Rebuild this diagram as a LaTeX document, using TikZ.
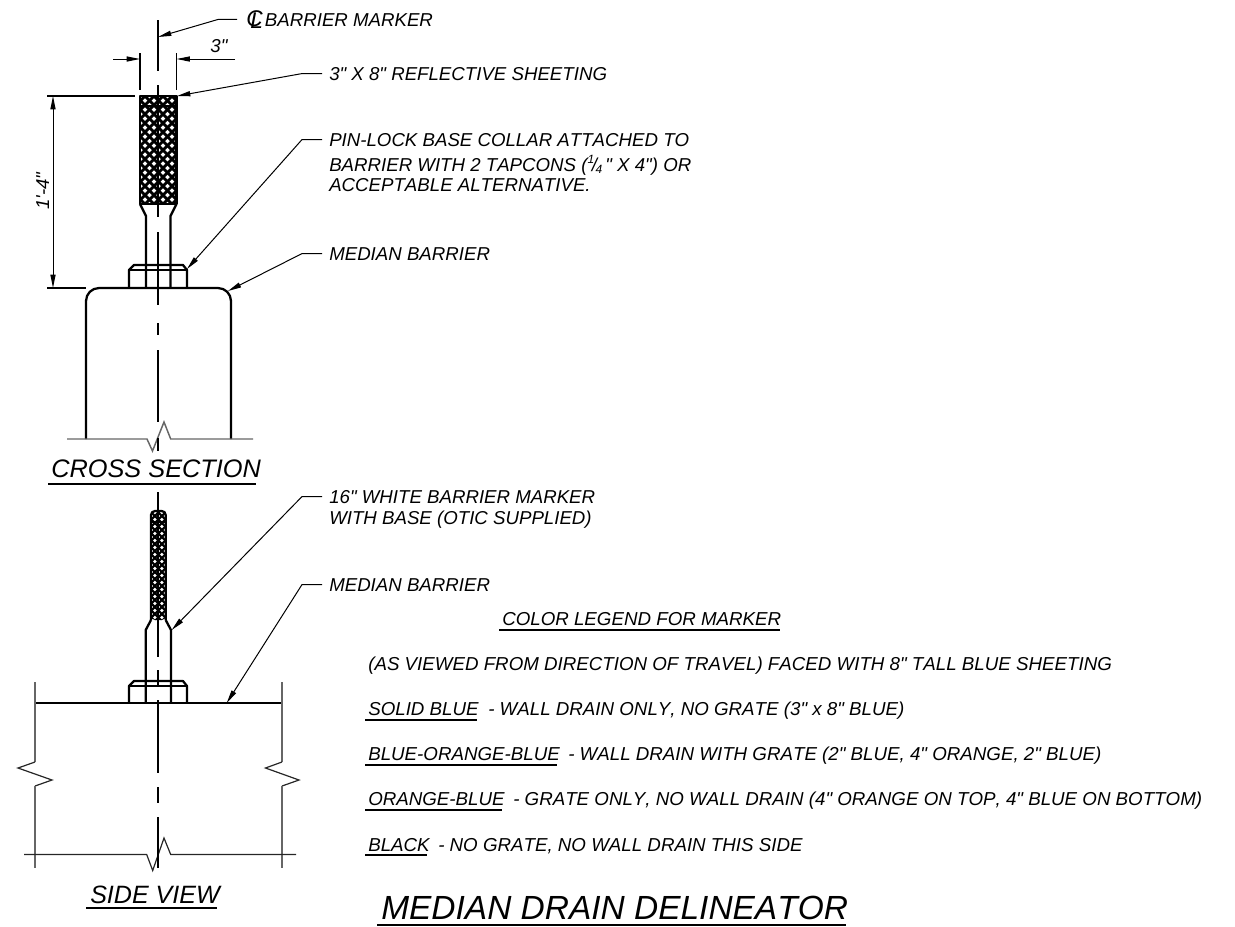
\documentclass[tikz,border=0pt]{standalone}
\usepackage{fontspec}
\setmainfont[Ligatures=TeXOff,Kerning=Off]{Liberation Sans}
\usetikzlibrary{arrows.meta}
\tikzset{
  obj/.style={line width=1.7pt,line join=round},
  thinobj/.style={line width=.9pt},
  sideline/.style={line width=1.1pt,color=black!60},
  center/.style={line width=.9pt},
  leader/.style={line width=.75pt,-{Triangle[length=10pt,width=3.8pt]}},
  dimline/.style={line width=.75pt,-{Triangle[length=10pt,width=3.8pt]}},
  extline/.style={line width=.8pt},
  ulbl/.style={line width=1pt},
  lbl/.style={font=\fontsize{14}{16}\selectfont\itshape,anchor=base west,inner xsep=5.25pt,inner ysep=0pt},
  legend/.style={font=\fontsize{14.05}{16}\selectfont\itshape,anchor=base west,inner sep=0pt},
  viewname/.style={font=\fontsize{19}{22}\selectfont\itshape,anchor=base west,inner sep=0pt},
  titlelbl/.style={font=\fontsize{25.1}{28}\selectfont\itshape,anchor=base west,inner sep=0pt}
}
\newcommand{\clsym}{{\fontsize{17}{17}\selectfont\rlap{C}\kern.18em\raisebox{-.12em}{L}}\kern1.5pt}
\newcommand{\quarterfrac}{\raisebox{.42em}{\fontsize{9}{9}\selectfont 1}\kern-.12em/\kern-.08em\raisebox{-.12em}{\fontsize{9}{9}\selectfont 4}}
\begin{document}
\begin{tikzpicture}[x=.75pt,y=-.75pt]
  \useasboundingbox (0,0) rectangle (1235,926);

  % cross section marker
  \begin{scope}
    \clip (140,96) rectangle (176.5,204);
    \foreach \k in {-15,...,16} {
      \draw[line width=2.1pt] ({250.1+9*\k-80},80) -- ({250.1+9*\k-220},220);
      \draw[line width=2.1pt] ({48.9+9*\k+80},80) -- ({48.9+9*\k+220},220);
    }
  \end{scope}
  \draw[obj] (140,96) rectangle (176.5,204);
  \draw[line width=2.2pt] (140,106) -- (176.5,106);
  \draw[obj] (140,204) -- (146,216) -- (146,288);
  \draw[obj] (176.5,204) -- (170.5,216) -- (170.5,288);

  % cross section collar and barrier
  \draw[obj] (129,288) -- (129,270) -- (134,265) -- (183,265) -- (187,270) -- (187,288);
  \draw[obj] (129,270) -- (187,270);
  \draw[obj] (86,439) -- (86,301) arc (180:270:13) -- (218,288) arc (270:360:13) -- (231,439);
  \draw[sideline] (67,439) -- (142,439) -- (147,439) -- (152.5,451) -- (164,422) -- (170.7,439) -- (253,439);

  \draw[center] (158,20) -- (158,71);
  \draw[center] (158,85) -- (158,217);
  \draw[center] (158,232) -- (158,305);
  \draw[center] (158,323) -- (158,335);
  \draw[center] (158,350) -- (158,422);
  \draw[center] (158,438) -- (158,451);

  % dimensions
  \draw[extline] (140,53) -- (140,90);
  \draw[extline] (176.5,53) -- (176.5,90);
  \coordinate (dimleft) at (113,59);
  \coordinate (dimright) at (235,59);
  \coordinate (dimlefttip) at (140,59);
  \coordinate (dimrighttip) at (176.5,59);
  \draw[dimline] (dimleft) -- (dimlefttip);
  \draw[dimline] (dimright) -- (dimrighttip);
  \node[lbl,anchor=base,inner sep=0pt] (dimthree) at (219,52) {3"};

  \draw[extline] (47,96) -- (135,96);
  \draw[extline] (47,288) -- (86,288);
  \coordinate (dimtop) at (53,96);
  \coordinate (dimbot) at (53,288);
  \draw[dimline,{Triangle[length=10pt,width=3.8pt]}-{Triangle[length=10pt,width=3.8pt]}] (dimtop) -- (dimbot);
  \node[lbl,anchor=base,inner sep=0pt,rotate=90] (dimheight) at (49,191) {1'-4"};

  % cross section labels
  \node[lbl,inner xsep=0pt] (lblmarker) at (246,26) {\clsym BARRIER MARKER};
  \node[lbl] (lblsheeting) at (322,80) {3" X 8" REFLECTIVE SHEETING};
  \node[lbl] (lblcollar) at (322,146) {PIN-LOCK BASE COLLAR ATTACHED TO};
  \node[lbl] (lblcollarb) at (322,171) {BARRIER WITH 2 TAPCONS (\quarterfrac\," X 4") OR};
  \node[lbl] (lblcollarc) at (322,191) {ACCEPTABLE ALTERNATIVE.};
  \node[lbl] (lblbarrier) at (322,260) {MEDIAN BARRIER};

  \coordinate (tipmarker) at (158,37);
  \coordinate (tipsheeting) at (177,96);
  \coordinate (tipcollar) at (187,269);
  \coordinate (tipbarrier) at (228,291);
  \draw[leader] (lblmarker.west) ++(-9,0) -- ++(-19,0) -- (tipmarker);
  \draw[leader] (lblsheeting.west) -- ++(-20,0) -- (tipsheeting);
  \draw[leader] (lblcollar.west) -- ++(-20,0) -- (tipcollar);
  \draw[leader] (lblbarrier.west) -- ++(-20,0) -- (tipbarrier);

  \node[viewname] (crossname) at (51,477) {CROSS SECTION};
  \draw[ulbl] (48,484) -- (256,484);

  % side view marker
  \begin{scope}
    \clip[rounded corners=3pt] (151,620) -- (151,511) -- (165.7,511) -- (165.7,620) -- cycle;
    \foreach \k in {-20,...,20} {
      \draw[line width=1.6pt] ({691.8+7*\k-490},490) -- ({691.8+7*\k-640},640);
      \draw[line width=1.6pt] ({-368.2+7*\k+490},490) -- ({-368.2+7*\k+640},640);
    }
  \end{scope}
  \draw[obj,rounded corners=3pt] (151,620) -- (151,511) -- (165.7,511) -- (165.7,620);
  \draw[line width=1.6pt] (151,522) -- (165.7,522);
  \draw[obj] (151,620) -- (145.7,630) -- (145.7,703);
  \draw[obj] (165.7,620) -- (171,630) -- (171,703);

  % side view collar and barrier
  \draw[obj] (129,703) -- (129,686) -- (134,681) -- (183,681) -- (187,686) -- (187,703);
  \draw[obj] (129,686) -- (187,686);
  \draw[obj] (35,703) -- (282,703);
  \draw[sideline] (35,682) -- (35,762);
  \draw[thinobj,color=black!85] (35,762) -- (18,768) -- (52,780) -- (35,786);
  \draw[sideline] (35,786) -- (35,868);
  \draw[sideline] (282,682) -- (282,762);
  \draw[thinobj,color=black!85] (282,762) -- (265.5,768) -- (299,780) -- (282,786);
  \draw[sideline] (282,786) -- (282,868);
  \draw[thinobj,color=black!85] (24,854.5) -- (146.7,854.5) -- (152.7,870.5) -- (164,838) -- (170.7,854.5) -- (296,854.5);

  \draw[center] (158,492) -- (158,657);
  \draw[center] (158,670) -- (158,685);
  \draw[center] (158,700) -- (158,773);
  \draw[center] (158,787) -- (158,803);
  \draw[center] (158,817) -- (158,868);

  % side view labels
  \node[lbl] (lblwhite) at (322,503) {16" WHITE BARRIER MARKER};
  \node[lbl] (lblwhiteb) at (322,524) {WITH BASE (OTIC SUPPLIED)};
  \node[lbl] (lblmedian) at (322,591) {MEDIAN BARRIER};
  \coordinate (tipwhite) at (171.7,630);
  \coordinate (tipmedian) at (226.7,703);
  \draw[leader] (lblwhite.west) -- ++(-20,0) -- (tipwhite);
  \draw[leader] (lblmedian.west) -- ++(-20,0) -- (tipmedian);

  \node[viewname,font=\fontsize{18.8}{22}\selectfont\itshape] (sidename) at (90,903) {SIDE VIEW};
  \draw[ulbl] (86,908) -- (217,908);

  % legend
  \node[legend] (legendhead) at (502,625) {COLOR LEGEND FOR MARKER};
  \draw[ulbl] (499,630) -- (780,630);
  \node[legend] (legendnote) at (368,670) {(AS VIEWED FROM DIRECTION OF TRAVEL) FACED WITH 8" TALL BLUE SHEETING};

  \node[legend] (keysolid) at (368,715) {SOLID BLUE};
  \node[legend] (textsolid) at (488,715) {- WALL DRAIN ONLY, NO GRATE (3" x 8" BLUE)};
  \draw[ulbl] (365,720) -- (477,720);
  \node[legend] (keybob) at (368,760) {BLUE-ORANGE-BLUE};
  \node[legend] (textbob) at (568,760) {- WALL DRAIN WITH GRATE (2" BLUE, 4" ORANGE, 2" BLUE)};
  \draw[ulbl] (365,765) -- (557,765);
  \node[legend] (keyob) at (368,805) {ORANGE-BLUE};
  \node[legend] (textob) at (513,805) {- GRATE ONLY, NO WALL DRAIN (4" ORANGE ON TOP, 4" BLUE ON BOTTOM)};
  \draw[ulbl] (365,810) -- (502,810);
  \node[legend] (keyblack) at (368,851) {BLACK};
  \node[legend] (textblack) at (438,851) {- NO GRATE, NO WALL DRAIN THIS SIDE};
  \draw[ulbl] (365,855) -- (427,855);

  \node[titlelbl] (titlename) at (381,919) {MEDIAN DRAIN DELINEATOR};
  \draw[ulbl] (377,925) -- (846,925);
\end{tikzpicture}
\end{document}
